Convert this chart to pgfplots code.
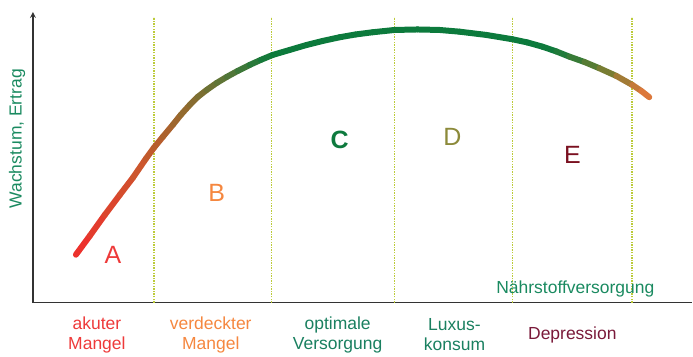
\documentclass[border=0pt]{standalone}
\usepackage{pgfplots}
\pgfplotsset{compat=1.18}
\usepackage{fontspec}
\setmainfont{Liberation Sans}
\definecolor{axisgray}{HTML}{333333}
\definecolor{dotline}{HTML}{BCCB3A}
\definecolor{cA}{HTML}{EE3A3A}
\definecolor{cB}{HTML}{F5873F}
\definecolor{cC}{HTML}{0E7A3E}
\definecolor{cCt}{HTML}{1A8060}
\definecolor{cD}{HTML}{8C8A3A}
\definecolor{cE}{HTML}{7A1020}
\definecolor{cEt}{HTML}{7A1A3A}
\definecolor{cN}{HTML}{1A8A60}
\begin{document}
\begin{tikzpicture}
\begin{axis}[
    scale only axis,
    width=660pt, height=291pt,
    xmin=33, xmax=693, ymin=53, ymax=344,
    axis lines=left,
    axis line style={axisgray, line width=1.6pt},
    x axis line style={-},
    y axis line style={-stealth},
    ytick=\empty,
    xtick={97,211,338,455,573},
    major tick length=0pt,
    xticklabels={
        {\color{cA}akuter\\\color{cA}Mangel},
        {\color{cB}verdeckter\\\color{cB}Mangel},
        {\color{cCt}optimale\\\color{cCt}Versorgung},
        {\color{cCt}Luxus-\\\color{cCt}konsum},
        {\color{cEt}Depression}},
    xticklabel style={align=center, anchor=center, yshift=-32pt,
        font=\fontsize{17.5}{20}\selectfont},
    ylabel={Wachstum, Ertrag},
    ylabel style={at={(axis description cs:-0.024,0.564)}, anchor=center,
        color=cN, font=\fontsize{17.5}{20}\selectfont},
    clip=false,
    colormap={curve}{rgb255(0)=(240,45,45) rgb255(1)=(205,85,45)
        rgb255(2)=(150,105,45) rgb255(3)=(90,118,55) rgb255(4)=(12,122,60)
        rgb255(5)=(12,122,60) rgb255(6)=(110,125,50) rgb255(7)=(232,120,60)},
]
% dotted region borders
\addplot[dotline, line width=1.6pt, dash pattern=on 1.4pt off 1.2pt] coordinates {(154,53) (154,339)};
\addplot[dotline, line width=1.6pt, dash pattern=on 1.4pt off 1.2pt] coordinates {(272,53) (272,339)};
\addplot[dotline, line width=1.6pt, dash pattern=on 1.4pt off 1.2pt] coordinates {(395,53) (395,339)};
\addplot[dotline, line width=1.6pt, dash pattern=on 1.4pt off 1.2pt] coordinates {(513,53) (513,339)};
\addplot[dotline, line width=1.6pt, dash pattern=on 1.4pt off 1.2pt] coordinates {(633,53) (633,339)};
% growth curve
\addplot[mesh, line width=6pt, line cap=round, line join=round, point meta=explicit]
table[meta=c] {
x y c
76 101 0
90 120 0.25
105 141 0.5
120 161 0.7
133 178 0.9
146 197 1.15
154 208 1.3
163 219 1.5
173 231 1.75
181 241 1.95
190 251 2.15
198 259 2.35
207 266 2.55
217 273 2.8
227 279 3.0
238 285 3.25
250 291 3.5
261 296 3.75
273 301 4
290 306 4.05
307 311 4.1
323 315 4.15
340 318.7 4.2
356 321.5 4.25
373 323.7 4.3
395 326 4.35
418 326.5 4.4
440 326 4.45
460 324.3 4.5
487 321 4.6
513 316.7 4.7
528 313.5 4.8
543 309.3 4.95
557 304.5 5.1
570 299.3 5.3
585 294 5.6
600 287.7 5.9
617 280 6.25
633 271 6.6
642 265 6.8
650 258.7 7
};
% region letters and axis caption
\node[cA, font=\fontsize{25}{25}\selectfont] at (axis cs:113,101) {A};
\node[cB, font=\fontsize{25}{25}\selectfont] at (axis cs:217,163) {B};
\node[cC, font=\fontsize{25}{25}\selectfont\bfseries] at (axis cs:340,216) {C};
\node[cD, font=\fontsize{25}{25}\selectfont] at (axis cs:453,219) {D};
\node[cE, font=\fontsize{25}{25}\selectfont] at (axis cs:573,201) {E};
\node[cN, font=\fontsize{17.5}{20}\selectfont] at (axis cs:576,67) {Nährstoffversorgung};
\path (axis cs:0,0) rectangle (axis cs:693,356);
\end{axis}
\end{tikzpicture}
\end{document}
